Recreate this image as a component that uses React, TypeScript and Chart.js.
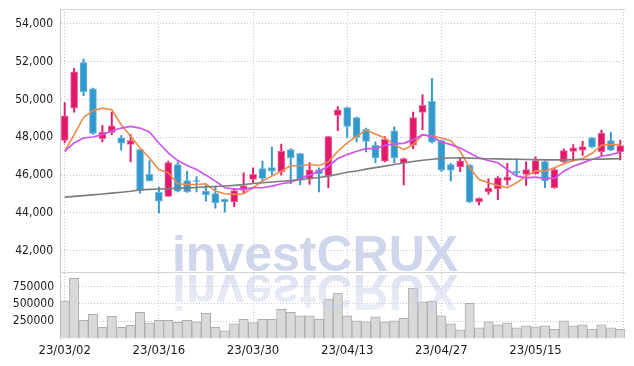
import React, { useEffect, useRef } from 'react';
import { Chart, registerables } from 'chart.js';

Chart.register(...registerables);

const dates = [
  '23/03/02', '23/03/03', '23/03/06', '23/03/07', '23/03/08', '23/03/09', '23/03/10', '23/03/13', '23/03/14', '23/03/15',
  '23/03/16', '23/03/17', '23/03/20', '23/03/21', '23/03/22', '23/03/23', '23/03/24', '23/03/27', '23/03/28', '23/03/29',
  '23/03/30', '23/03/31', '23/04/03', '23/04/04', '23/04/05', '23/04/06', '23/04/07', '23/04/10', '23/04/11', '23/04/12',
  '23/04/13', '23/04/14', '23/04/17', '23/04/18', '23/04/19', '23/04/20', '23/04/21', '23/04/24', '23/04/25', '23/04/26',
  '23/04/27', '23/04/28', '23/05/02', '23/05/03', '23/05/04', '23/05/08', '23/05/09', '23/05/10', '23/05/11', '23/05/12',
  '23/05/15', '23/05/16', '23/05/17', '23/05/18', '23/05/19', '23/05/22', '23/05/23', '23/05/24', '23/05/25', '23/05/26',
];
const openPrices = [
  47840, 49540, 51950, 50560, 47930, 48260, 47980, 47620, 47350, 46040,
  45090, 44880, 46560, 45720, 45720, 45160, 45020, 44720, 44580, 45190,
  45770, 46350, 46400, 46180, 47350, 47140, 45790, 46280, 45950, 49160,
  49580, 49050, 48420, 47580, 46740, 48350, 46630, 47580, 49320, 49900,
  47830, 46560, 46440, 46530, 44580, 45110, 45270, 45720, 46210, 46040,
  46070, 46720, 45340, 46700, 47260, 47320, 47980, 47230, 47830, 47230,
];
const closePrices = [
  49140, 51470, 50420, 48210, 48280, 48610, 47690, 47830, 45190, 45690,
  44630, 46670, 45160, 45120, 45670, 44950, 44530, 44580, 45190, 45440,
  46040, 45830, 46210, 47280, 46910, 45760, 46280, 46070, 48040, 49460,
  48580, 48000, 47790, 46910, 47900, 46910, 46880, 49050, 49690, 47740,
  46260, 46260, 46760, 44580, 44770, 45320, 45860, 45900, 46110, 46300,
  46770, 45690, 46300, 47300, 47440, 47510, 47480, 48230, 47320, 47560,
];
const highPrices = [
  49840, 51650, 52140, 50600, 48630, 49330, 48100, 48140, 47350, 46770,
  45370, 46740, 46700, 46210, 45930, 45470, 45420, 44750, 45300, 46120,
  46390, 46740, 47490, 47650, 47400, 47150, 46670, 46390, 48050, 49630,
  49600, 49070, 48490, 47760, 48040, 48560, 46900, 49330, 50250, 51120,
  47850, 46630, 46900, 46550, 44800, 45800, 45930, 46630, 46860, 46700,
  46970, 46750, 46390, 47390, 47620, 47790, 48000, 48390, 48250, 47860,
];
const lowPrices = [
  47700, 49330, 50210, 48150, 47760, 48140, 47320, 46700, 45050, 45690,
  44000, 44880, 45120, 45090, 45120, 44630, 44250, 44040, 44340, 45020,
  45560, 45690, 46000, 46000, 45550, 45480, 45510, 45120, 45340, 48350,
  48000, 47760, 47230, 46650, 46700, 46650, 45480, 47400, 48400, 47700,
  46200, 45690, 46180, 44550, 44420, 45000, 44700, 45480, 46000, 45460,
  46050, 45340, 45300, 46680, 46740, 47050, 47450, 47050, 47300, 46810,
];
const maShort = [
  47264, 48141, 49053, 49404, 49544, 49457, 48667, 48054, 47440, 46913,
  46300, 46124, 45546, 45510, 45510, 45546, 45159, 45019, 44984, 45019,
  45335, 45686, 45949, 46212, 46493, 46510, 46563, 46510, 46703, 47264,
  47703, 48054, 48387, 48176, 47966, 47615, 47352, 47615, 48141, 48071,
  47966, 47826, 47264, 46387, 45773, 45598, 45458, 45335, 45598, 45949,
  46212, 46212, 46387, 46598, 46773, 46878, 47159, 47580, 47615, 47615,
];
const maMid = [
  47264, 47703, 47966, 48018, 48141, 48352, 48492, 48580, 48492, 48281,
  47703, 47176, 46773, 46510, 46300, 46001, 45686, 45335, 45265, 45265,
  45335, 45335, 45422, 45546, 45633, 45826, 46001, 46212, 46475, 46878,
  47089, 47264, 47405, 47405, 47580, 47650, 47685, 47878, 48141, 48036,
  47755, 47615, 47440, 47176, 46913, 46773, 46650, 46300, 45949, 45861,
  45896, 45826, 45826, 46212, 46475, 46650, 46826, 47001, 47089, 47212,
];
const maLong = [
  44840, 44880, 44920, 44960, 45000, 45050, 45100, 45150, 45220, 45250,
  45270, 45290, 45310, 45330, 45350, 45380, 45400, 45430, 45460, 45500,
  45560, 45600, 45640, 45680, 45720, 45760, 45820, 45880, 45950, 46050,
  46150, 46220, 46320, 46400, 46480, 46560, 46640, 46720, 46790, 46840,
  46890, 46910, 46920, 46900, 46880, 46870, 46860, 46850, 46840, 46830,
  46820, 46810, 46810, 46810, 46820, 46830, 46840, 46850, 46860, 46870,
];
const volumes = [
  543000, 871000, 264000, 351000, 163000, 322000, 163000, 192000, 380000, 225000,
  264000, 264000, 235000, 264000, 240000, 366000, 163000, 110000, 211000, 279000,
  230000, 279000, 279000, 423000, 380000, 327000, 327000, 279000, 572000, 659000,
  327000, 254000, 240000, 312000, 240000, 254000, 293000, 731000, 529000, 543000,
  327000, 211000, 124000, 510000, 153000, 240000, 197000, 225000, 153000, 182000,
  168000, 182000, 134000, 254000, 182000, 197000, 134000, 197000, 153000, 134000,
];
const priceTicks = [42000, 44000, 46000, 48000, 50000, 52000, 54000];
const volumeTicks = [250000, 500000, 750000];
const labelEvery = 10;
const watermark = 'investCRUX';

const UP = '#e2196b';
const DOWN = '#3399cc';
const UP_EDGE = '#ee6a9c';
const DOWN_EDGE = '#6bb6dc';
const GRID = '#c3c7d8';
const FONT = '"DejaVu Sans Condensed", "Liberation Sans Narrow", Arial, sans-serif';

const decorPlugin = {
  id: 'decor',
  beforeDatasetsDraw(chart: any) {
    const { ctx, chartArea } = chart;
    const yVol = chart.scales.yVol;
    ctx.save();
    ctx.strokeStyle = '#d4d4d4';
    ctx.lineWidth = 1;
    ctx.beginPath();
    ctx.moveTo(chartArea.left, Math.round(chartArea.top) + 0.5);
    ctx.lineTo(chartArea.right, Math.round(chartArea.top) + 0.5);
    ctx.moveTo(chartArea.left, Math.round(yVol.top) + 0.5);
    ctx.lineTo(chartArea.right, Math.round(yVol.top) + 0.5);
    ctx.stroke();
    ctx.setLineDash([1, 2]);
    ctx.strokeStyle = GRID;
    ctx.beginPath();
    ctx.moveTo(Math.round(chartArea.right) - 1.5, chartArea.top);
    ctx.lineTo(Math.round(chartArea.right) - 1.5, chartArea.bottom);
    ctx.stroke();
    ctx.restore();
  },
  afterDatasetsDraw(chart: any) {
    const { ctx } = chart;
    const yVol = chart.scales.yVol;
    const cx = chart.width / 2 - 2;
    const base = yVol.top - 1;
    const axis = yVol.top + 1;
    ctx.save();
    ctx.font = 'bold 50px "Liberation Sans", Arial, sans-serif';
    ctx.textAlign = 'center';
    ctx.textBaseline = 'alphabetic';
    ctx.fillStyle = 'rgba(200, 207, 232, 0.85)';
    ctx.fillText(watermark, cx, base);
    ctx.translate(0, 2 * axis);
    ctx.scale(1, -1);
    const g = ctx.createLinearGradient(0, base, 0, base - 40);
    g.addColorStop(0, 'rgba(200, 207, 232, 0.6)');
    g.addColorStop(1, 'rgba(200, 207, 232, 0.3)');
    ctx.fillStyle = g;
    ctx.fillText(watermark, cx, base);
    ctx.restore();
  },
};

export default function App() {
  const ref = useRef<HTMLCanvasElement | null>(null);

  useEffect(() => {
    if (!ref.current) return;
    const isUp = openPrices.map((o, i) => closePrices[i] >= o);
    const bodyColors = isUp.map((u) => (u ? UP : DOWN));
    const edgeColors = isUp.map((u) => (u ? UP_EDGE : DOWN_EDGE));
    const tickFont = { family: FONT, size: 12 };

    const chart = new Chart(ref.current, {
      type: 'bar',
      data: {
        labels: dates,
        datasets: [
          { type: 'line', data: maLong, yAxisID: 'y', borderColor: '#7d7d7d', borderWidth: 1.6, pointRadius: 0, tension: 0, order: 0 } as any,
          { type: 'line', data: maMid, yAxisID: 'y', borderColor: '#cc55ee', borderWidth: 1.7, pointRadius: 0, tension: 0, order: 0 } as any,
          { type: 'line', data: maShort, yAxisID: 'y', borderColor: '#f08848', borderWidth: 1.6, pointRadius: 0, tension: 0, order: 0 } as any,
          {
            type: 'bar', data: openPrices.map((o, i) => [o, closePrices[i]]), yAxisID: 'y',
            backgroundColor: bodyColors, borderColor: edgeColors, borderWidth: 1, borderSkipped: false,
            barThickness: 7, grouped: false, order: 1,
          } as any,
          {
            type: 'bar', data: lowPrices.map((l, i) => [l, highPrices[i]]), yAxisID: 'y',
            backgroundColor: bodyColors, borderWidth: 0, barThickness: 1.3, grouped: false, order: 2,
          } as any,
          {
            type: 'bar', data: volumes, yAxisID: 'yVol', backgroundColor: '#d9d9d9', borderColor: '#adadad',
            borderWidth: 1, barPercentage: 1, categoryPercentage: 1, grouped: false, order: 3,
          } as any,
        ],
      },
      options: {
        responsive: false,
        animation: false,
        events: [],
        layout: { padding: { top: 1, right: 1, left: 0, bottom: 0 } },
        plugins: { legend: { display: false }, tooltip: { enabled: false } },
        scales: {
          x: {
            type: 'category', offset: true,
            grid: { display: true, offset: false, color: GRID, drawTicks: false },
            border: { display: false, dash: [1, 2] },
            ticks: { autoSkip: false, maxRotation: 0, padding: 4, color: '#1a1a1a', font: { family: FONT, size: 13 } },
            afterBuildTicks: (s: any) => { s.ticks = s.ticks.filter((t: any) => t.value % labelEvery === 0); },
            afterFit: (s: any) => { s.height = 19.5; s.paddingLeft = 0; s.paddingRight = 0; },
          },
          y: {
            type: 'linear', position: 'left', stack: 'panes', stackWeight: 263.3, weight: 1,
            min: 40863, max: 54788,
            grid: { color: GRID, drawTicks: false },
            border: { display: true, color: '#c8c8c8', dash: [1, 2] },
            ticks: { padding: 7, color: '#1a1a1a', font: tickFont, callback: (v: any) => Number(v).toLocaleString('en-US') },
            afterBuildTicks: (s: any) => { s.ticks = priceTicks.map((v) => ({ value: v })); },
            afterFit: (s: any) => { s.width = 52; s.paddingTop = 0; s.paddingBottom = 0; },
          },
          yVol: {
            type: 'linear', position: 'left', stack: 'panes', stackWeight: 66.2, weight: 0,
            min: 0, max: 958000,
            grid: { color: GRID, drawTicks: false },
            border: { display: true, color: '#c8c8c8', dash: [1, 2] },
            ticks: { padding: 6, color: '#1a1a1a', font: tickFont, callback: (v: any) => String(v) },
            afterBuildTicks: (s: any) => { s.ticks = volumeTicks.map((v) => ({ value: v })); },
            afterFit: (s: any) => { s.width = 52; s.paddingTop = 0; s.paddingBottom = 0; },
          },
        } as any,
      },
      plugins: [decorPlugin],
    });

    return () => chart.destroy();
  }, []);

  return <canvas ref={ref} width={618} height={350} style={{ display: 'block' }} />;
}
